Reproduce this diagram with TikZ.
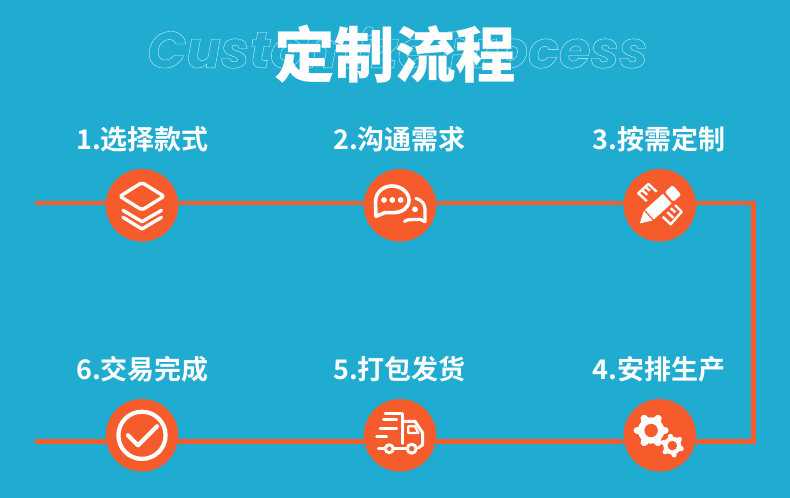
\documentclass[tikz,border=0pt]{standalone}
\usepackage{fontspec}
\newfontfamily\cjkb{Noto Sans CJK SC Bold}
\newfontfamily\cjkt{Noto Sans CJK SC Black}
\newfontfamily\enit{Poppins Bold Italic}
\definecolor{bgblue}{HTML}{20ACD0}
\definecolor{orng}{HTML}{F65B2B}
\tikzset{
 link/.style={draw=orng,line width=4.6pt},
 stepdot/.style={circle,fill=orng,minimum size=72.5pt,inner sep=0pt},
 steplabel/.style={text=white,font=\cjkb\fontsize{27}{27}\selectfont,inner sep=0pt},
 ico/.style={draw=white,line width=3.4pt,line cap=round,line join=round},
 icothin/.style={draw=white,line width=2.4pt,line cap=butt,line join=round},
 trk/.style={ico,line width=3pt},
}
\begin{document}
\begin{tikzpicture}[x=1pt,y=-1pt]
\useasboundingbox (0,0) rectangle (790,498);
\fill[bgblue] (0,0) rectangle (790,498);
% title
\node[inner sep=0pt,text=white] (outline) at (397.5,47.5) {\special{pdf:code q 1 Tr 0.35 w 0.85 0.96 0.98 RG}\enit\fontsize{51.3}{51.3}\selectfont Customize Process\special{pdf:code Q}};
\node[inner sep=0pt,text=white] (title) at (395,54) {\cjkt\fontsize{60.5}{60.5}\selectfont 定制流程};
% labels
\node[steplabel] (l1) at (142.5,139) {1.选择款式};
\node[steplabel] (l2) at (399.5,139) {2.沟通需求};
\node[steplabel] (l3) at (659,139) {3.按需定制};
\node[steplabel] (l4) at (659,369) {4.安排生产};
\node[steplabel] (l5) at (399.5,369) {5.打包发货};
\node[steplabel] (l6) at (142.5,369) {6.交易完成};
% circles
\node[stepdot] (n1) at (142,205.3) {};
\node[stepdot] (n2) at (400,205.3) {};
\node[stepdot] (n3) at (659.8,205.3) {};
\node[stepdot] (n4) at (659.8,435.3) {};
\node[stepdot] (n5) at (400,435.3) {};
\node[stepdot] (n6) at (142,435.3) {};
% connectors
\coordinate (s1) at (35,203);
\coordinate (s2) at (35,441.5);
\coordinate (c1) at (753.4,203);
\coordinate (c2) at (753.4,441.5);
\draw[link] (s1) -- (s1 -| n1.west);
\draw[link] (n1.east |- s1) -- (n2.west |- s1);
\draw[link] (n2.east |- s1) -- (n3.west |- s1);
\draw[link,line join=miter] (n3.east |- s1) -- (c1) -- (c2) -- (n4.east |- s2);
\draw[link] (n4.west |- s2) -- (n5.east |- s2);
\draw[link] (n5.west |- s2) -- (n6.east |- s2);
\draw[link] (n6.west |- s2) -- (s2);
% icon 1: layers
\begin{scope}[shift={(n1.center)}]
 \draw[ico,rounded corners=2pt] (0,-22.8) -- (22,-9) -- (0,4.7) -- (-22,-9) -- cycle;
 \draw[ico] (-19,5) -- (0,16.4) -- (19.5,5);
 \draw[ico] (-19,12) -- (0,23.7) -- (19.5,12);
\end{scope}
% icon 2: chat
\begin{scope}[shift={(n2.center)}]
 \draw[ico,line width=3.6pt] (-24,11) -- (-24.5,-3) .. controls (-24.5,-14) and (-16,-19.3) .. (-8,-19.3) .. controls (2,-19.3) and (9,-12) .. (9,-5.5) .. controls (9,3) and (2,7) .. (-6,7.3) -- (-15,7.3) -- cycle;
 \fill[white] (-16,-5.3) circle (2.9pt) (-7.7,-5.3) circle (2.9pt) (.7,-5.3) circle (2.9pt);
 \draw[ico,line width=3.2pt] (16,-7) .. controls (22,-5) and (25,-1) .. (25,4) -- (25,16.4) -- (20,14) -- (8,14.5) -- (4.5,16);
 \fill[white] (15,4) circle (2.9pt);
\end{scope}
% icon 3: pencil and rulers
\begin{scope}[shift={(n3.center)}]
 \begin{scope}[rotate=42]
  \fill[white,rounded corners=.3pt] (-27,0) -- (-15.5,-6.5) -- (-15.5,6.5) -- cycle;
  \fill[white] (-14,-6.5) -- (10,-6.5) -- (10,6.5) -- (-14,6.5) -- cycle;
  \fill[white,rounded corners=2pt] (12.5,-6.5) -- (23,-6.5) -- (23,6.5) -- (12.5,6.5) -- cycle;
 \end{scope}
 \draw[icothin] (-13,-4.3) -- (-21.5,-12) -- (-11.5,-21.3) -- (-3.1,-13.6);
 \draw[icothin] (-18,-15.5) -- (-12.5,-10.5) (-14.5,-18.5) -- (-10,-14.5);
 \draw[icothin] (15.2,-.3) -- (21.9,6.4) -- (10.9,19) -- (2.9,11.4);
 \draw[icothin] (7.5,7) -- (13.5,12.5) (11,3) -- (15.5,7);
\end{scope}
% icon 4: gears
\foreach \cx/\cy/\ro/\rb/\rh/\tw/\st in {-8.7/-4.8/17.5/13.2/6.7/7.5/0,12.5/10.3/12/9/4.8/5/41}{
 \begin{scope}[shift={(n4.center)},shift={(\cx,\cy)}]
  \fill[white] (0,0) circle (\rb pt);
  \foreach \a in {0,60,...,300}{
   \draw[white,line width=\tw pt,line cap=round] (0,0) -- (\a+\st:\ro pt-\tw pt/2);
  }
  \fill[orng] (0,0) circle (\rh pt);
 \end{scope}
}
% icon 5: truck
\begin{scope}[shift={(n5.center)}]
 \draw[trk] (-15,-21.6) -- (2.3,-21.6) -- (2.3,8);
 \draw[trk] (-16.7,-15.6) -- (-3.3,-15.6);
 \draw[trk] (-20,-7.3) -- (-3.3,-7.3);
 \draw[trk] (-23.3,1) -- (-13.3,1);
 \draw[trk] (-21.7,12.7) -- (-16,12.7);
 \draw[trk] (-5.5,12.7) -- (6.5,12.7);
 \draw[trk] (2.3,-14) -- (15,-14) -- (22.7,-2.3) -- (22.7,9.4) -- (18.3,12.7);
 \draw[trk,line width=2.2pt] (8.3,-9) -- (15,-9) -- (18.3,-2.3) -- (8.3,-2.3) -- cycle;
 \draw[trk] (-10.7,13.4) circle (4pt);
 \draw[trk] (11.7,13.4) circle (4.5pt);
\end{scope}
% icon 6: check
\begin{scope}[shift={(n6.center)}]
 \draw[white,line width=4.2pt] (0,0) circle (23.6pt);
 \draw[ico,line width=4.2pt] (-14,0) -- (-4,10) -- (15,-9);
\end{scope}
\end{tikzpicture}
\end{document}
